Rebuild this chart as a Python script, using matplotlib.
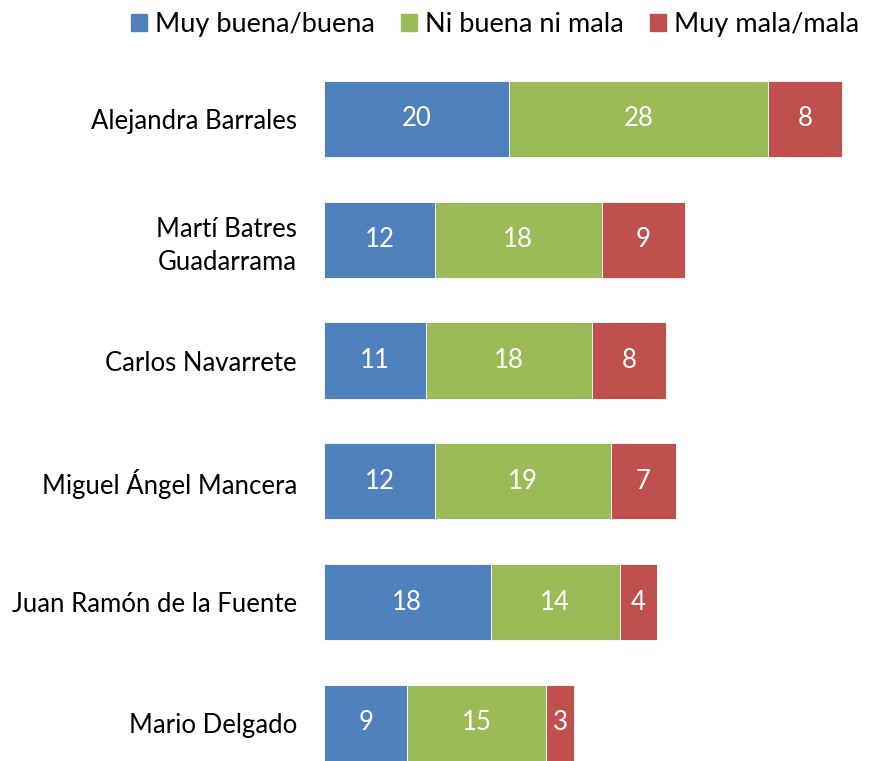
import matplotlib
matplotlib.use("Agg")
import matplotlib.pyplot as plt
from matplotlib.patches import Patch
import numpy as np

plt.rcParams['font.family'] = ['Lato', 'DejaVu Sans']

candidatos = ["Alejandra Barrales", "Martí Batres\nGuadarrama", "Carlos Navarrete",
              "Miguel Ángel Mancera", "Juan Ramón de la Fuente", "Mario Delgado"]
buena = [20, 12, 11, 12, 18, 9]
ni = [28, 18, 18, 19, 14, 15]
mala = [8, 9, 8, 7, 4, 3]
series = ["Muy buena/buena", "Ni buena ni mala", "Muy mala/mala"]
colores = ["#4F81BD", "#9BBB59", "#C0504D"]

fs = 18.5

fig = plt.figure(figsize=(8.7, 7.61), dpi=100)
ax = fig.add_axes([324 / 870, 0, 536.5 / 870, 1 - 46.4 / 761])

y = np.arange(len(candidatos))
left = np.zeros(len(candidatos))
for vals, col in zip([buena, ni, mala], colores):
    vals = np.array(vals)
    bars = ax.barh(y, vals, left=left, height=0.63, color=col,
                   edgecolor="white", linewidth=0.6)
    for b, v in zip(bars, vals):
        ax.text(b.get_x() + b.get_width() / 2, b.get_y() + b.get_height() / 2,
                str(v), ha="center", va="center", color="white", fontsize=fs)
    left += vals

ax.set_xlim(0, 58)
ax.set_ylim(5.315, -0.6)
ax.set_yticks(y)
ax.set_yticklabels(candidatos, fontsize=fs, linespacing=1.4)
for lbl in ax.get_yticklabels():
    lbl.set_multialignment("right")
ax.tick_params(axis="y", length=0, pad=19.5)
ax.tick_params(axis="x", bottom=False, labelbottom=False)
for s in ax.spines.values():
    s.set_visible(False)

handles = [Patch(color=c, label=s) for s, c in zip(series, colores)]
fig.legend(handles=handles, loc="upper center", bbox_to_anchor=(495 / 870, 1.016),
           ncol=3, frameon=False, fontsize=19.5, handlelength=0.6, handleheight=0.6,
           handletextpad=0.3, columnspacing=0.95)

fig.savefig("out.png", dpi=100)
